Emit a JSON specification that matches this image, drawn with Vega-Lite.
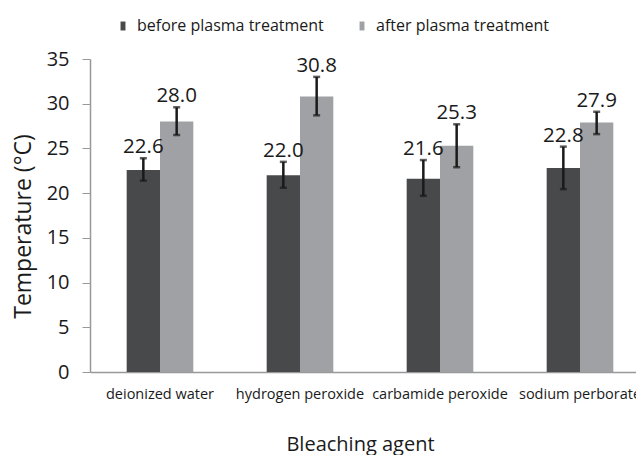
{
  "$schema": "https://vega.github.io/schema/vega-lite/v6.json",
  "width": 546,
  "height": 313,
  "autosize": {"type": "none"},
  "padding": {"left": 90, "top": 59, "right": 0, "bottom": 83},
  "background": "white",
  "config": {
    "view": {"stroke": null},
    "font": "Open Sans",
    "text": {"font": "Open Sans"}
  },
  "data": {
    "values": [
      {"agent": "deionized water", "group": "before plasma treatment", "value": 22.6, "lo": 21.4, "hi": 23.9},
      {"agent": "deionized water", "group": "after plasma treatment", "value": 28.0, "lo": 26.5, "hi": 29.6},
      {"agent": "hydrogen peroxide", "group": "before plasma treatment", "value": 22.0, "lo": 20.6, "hi": 23.5},
      {"agent": "hydrogen peroxide", "group": "after plasma treatment", "value": 30.8, "lo": 28.7, "hi": 33.0},
      {"agent": "carbamide peroxide", "group": "before plasma treatment", "value": 21.6, "lo": 19.7, "hi": 23.7},
      {"agent": "carbamide peroxide", "group": "after plasma treatment", "value": 25.3, "lo": 22.9, "hi": 27.7},
      {"agent": "sodium perborate", "group": "before plasma treatment", "value": 22.8, "lo": 20.45, "hi": 25.2},
      {"agent": "sodium perborate", "group": "after plasma treatment", "value": 27.9, "lo": 26.6, "hi": 29.1}
    ]
  },
  "encoding": {
    "x": {
      "field": "agent",
      "type": "nominal",
      "sort": ["deionized water", "hydrogen peroxide", "carbamide peroxide", "sodium perborate"],
      "scale": {"range": [0, 560], "paddingInner": 0.524, "paddingOuter": 0.262},
      "axis": {
        "title": "Bleaching agent",
        "labelAngle": 0,
        "labelFont": "Open Sans",
        "labelFontSize": 14.5,
        "labelColor": "#1a1a1a",
        "labelPadding": 15,
        "labelLimit": 200,
        "ticks": false,
        "domainColor": "#999999",
        "domainWidth": 1.5,
        "titleFont": "Open Sans",
        "titleFontSize": 20,
        "titleFontWeight": "normal",
        "titleColor": "#1a1a1a",
        "titleX": 270,
        "titleY": 72,
        "titleAnchor": "middle",
        "titleAlign": "center",
        "titleBaseline": "middle"
      }
    },
    "xOffset": {
      "field": "group",
      "type": "nominal",
      "sort": ["before plasma treatment", "after plasma treatment"],
      "scale": {"paddingInner": 0, "paddingOuter": 0}
    }
  },
  "layer": [
    {
      "mark": {"type": "bar"},
      "encoding": {
        "y": {
          "field": "value",
          "type": "quantitative",
          "scale": {"domain": [0, 35], "nice": false},
          "axis": {
            "title": "Temperature (°C)",
            "values": [0, 5, 10, 15, 20, 25, 30, 35],
            "grid": false,
            "labelFont": "Open Sans",
            "labelFontSize": 20,
            "labelColor": "#1a1a1a",
            "labelPadding": 13,
            "tickSize": 8,
            "tickColor": "#999999",
            "domainColor": "#999999",
            "domainWidth": 1.5,
            "titleFont": "Open Sans",
            "titleFontSize": 23,
            "titleFontWeight": "normal",
            "titleColor": "#1a1a1a",
            "titleAngle": -90,
            "titleX": -67,
            "titleY": 167,
            "titleAlign": "center",
            "titleBaseline": "middle"
          }
        },
        "color": {
          "field": "group",
          "type": "nominal",
          "scale": {"domain": ["before plasma treatment", "after plasma treatment"], "range": ["#48494b", "#a0a1a4"]},
          "legend": {
            "title": null,
            "orient": "none",
            "direction": "horizontal",
            "legendX": 25,
            "legendY": -41,
            "labelFont": "Open Sans",
            "labelFontSize": 16,
            "labelColor": "#1a1a1a",
            "labelOffset": 6,
            "columnPadding": 30,
            "symbolType": "M-0.55,-1H0.55V1H-0.55Z",
            "symbolSize": 80,
            "symbolStrokeWidth": 0,
            "labelLimit": 300
          }
        }
      }
    },
    {
      "mark": {"type": "rule", "color": "#1a1a1a", "strokeWidth": 2.5},
      "encoding": {
        "y": {"field": "lo", "type": "quantitative"},
        "y2": {"field": "hi"}
      }
    },
    {
      "mark": {"type": "tick", "color": "#1a1a1a", "size": 7, "thickness": 2.5},
      "encoding": {
        "y": {"field": "lo", "type": "quantitative"}
      }
    },
    {
      "mark": {"type": "tick", "color": "#1a1a1a", "size": 7, "thickness": 2.5},
      "encoding": {
        "y": {"field": "hi", "type": "quantitative"}
      }
    },
    {
      "mark": {"type": "text", "baseline": "alphabetic", "dy": -5, "font": "Open Sans", "fontSize": 20.5, "color": "#1a1a1a"},
      "encoding": {
        "y": {"field": "hi", "type": "quantitative"},
        "text": {"field": "value", "type": "quantitative", "format": ".1f"}
      }
    }
  ]
}
